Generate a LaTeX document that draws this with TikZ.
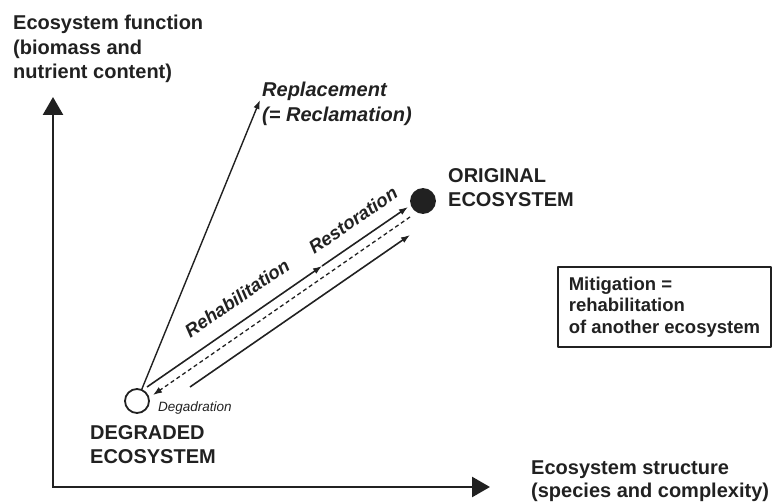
\documentclass[tikz,border=0pt]{standalone}
\usepackage{fontspec}
\setmainfont{Liberation Sans}
\usetikzlibrary{arrows.meta}

\begin{document}
\begin{tikzpicture}[>={Latex[length=9bp,width=6.5bp]},line join=bevel,
  lab/.style={inner sep=0pt,align=left,text=ink,font=\fontsize{20bp}{24.5bp}\selectfont\bfseries},
  labit/.style={lab,font=\fontsize{20bp}{24.5bp}\selectfont\bfseries\itshape},
  trailtxt/.style={lab,font=\fontsize{18.5bp}{22bp}\selectfont\bfseries\itshape,rotate=34.6},
  eco/.style={draw=ink,circle,line width=1.8bp,minimum size=24bp,inner sep=0pt},
  trail/.style={draw=ink,line width=1.6bp}]
%%
  \definecolor{ink}{rgb}{0.13,0.13,0.13};
  \useasboundingbox (0bp,0bp) rectangle (776bp,502bp);
  \node (DEG) at (137bp,101bp) [eco,fill=white] {};
  \node (ORIG) at (423bp,301bp) [eco,fill=ink] {};
  % axes
  \coordinate (ytip) at (53bp,405bp);
  \coordinate (zero) at (53bp,15bp);
  \coordinate (xtip) at (490bp,15bp);
  \draw [ink,line width=2.6bp,line join=miter,{Triangle[length=18bp,width=20bp]}-{Triangle[length=18bp,width=20bp]}] (ytip) -- (zero) -- (xtip);
  % ends of the three parallel tracks
  \coordinate (up0) at (147bp,115bp);
  \coordinate (upmid) at (322bp,236bp);
  \coordinate (up1) at (408bp,295bp);
  \coordinate (dash0) at (410bp,285bp);
  \coordinate (dash1) at (153bp,107bp);
  \coordinate (low0) at (190bp,115bp);
  \coordinate (low1) at (410bp,267bp);
  \coordinate (repl) at (260bp,402bp);
  \draw [trail,->] (up0) -- (upmid);
  \draw [trail,->] (upmid) -- (up1);
  \draw [trail,->,line width=1.3bp,dash pattern=on 4bp off 3bp] (dash0) -- (dash1);
  \draw [trail,->] (low0) -- (low1);
  \draw [trail,->,line width=1.4bp] (DEG) -- (repl);
  % labels
  \node (YLBL) at (13bp,487bp) [lab,anchor=north west] {Ecosystem function\\(biomass and\\nutrient content)};
  \node (XLBL) at (531bp,41bp) [lab,anchor=north west,font=\fontsize{20bp}{23bp}\selectfont\bfseries] {Ecosystem structure\\(species and complexity)};
  \node (REPL) at (262bp,420bp) [labit,anchor=north west] {Replacement\\(= Reclamation)};
  \node (ORIGLBL) at (448bp,334bp) [lab,anchor=north west] {ORIGINAL\\ECOSYSTEM};
  \node (DEGLBL) at (90bp,77bp) [lab,anchor=north west] {DEGRADED\\ECOSYSTEM};
  \node (REHAB) at (237bp,204bp) [trailtxt] {Rehabilitation};
  \node (RESTO) at (353bp,282bp) [trailtxt] {Restoration};
  \node (DEGR) at (158bp,90bp) [anchor=base west,inner sep=0pt,text=ink,font=\fontsize{13.5bp}{16bp}\selectfont\itshape] {Degadration};
  \node (MIT) at (557bp,236bp) [lab,font=\fontsize{18.5bp}{21.5bp}\selectfont\bfseries,draw=ink,line width=1.6bp,anchor=north west,inner xsep=11bp,inner ysep=10bp] {Mitigation =\\rehabilitation\\of another ecosystem};
%
\end{tikzpicture}
\end{document}
